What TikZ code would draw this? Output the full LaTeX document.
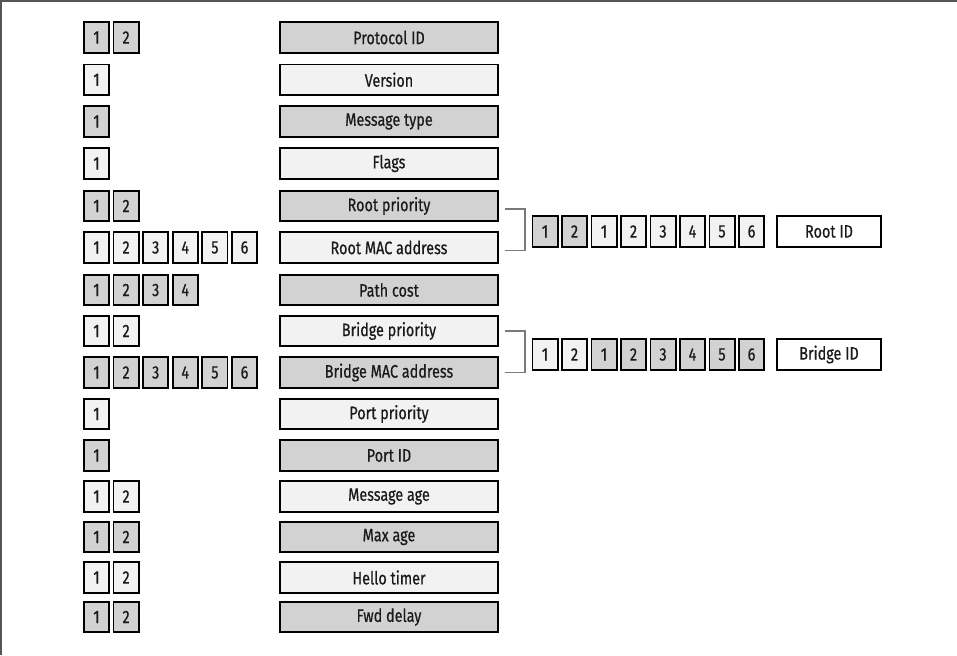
\documentclass[tikz,border=0pt]{standalone}
\usepackage{fontspec}
\setmainfont[FakeStretch=0.8,FakeBold=0.6]{Fira Sans}
\definecolor{gfill}{HTML}{D2D2D2}
\definecolor{lfill}{HTML}{F2F2F2}
\definecolor{txt}{HTML}{1A1A1A}
\definecolor{brk}{HTML}{7A7A7A}
\definecolor{framec}{HTML}{555555}
\tikzset{
  boxbase/.style={draw=black, line width=1.8pt, inner sep=0pt, text=txt,
    font=\fontsize{18}{20}\selectfont, minimum height=30.5pt},
  field/.style={boxbase, minimum width=218pt},
  byte/.style={boxbase, minimum width=25.2pt},
  idbox/.style={boxbase, minimum width=104pt, fill=white},
  gray/.style={fill=gfill},
  light/.style={fill=lfill},
  bracket/.style={draw=brk, line width=1.3pt},
}
\begin{document}
\begin{tikzpicture}[x=1pt,y=-1pt]
\useasboundingbox (0,0) rectangle (957,655);
\draw[framec, line width=1.6pt] (1,655) -- (1,1) -- (957,1);
\foreach \i/\y/\n/\c/\t in {
  1/37.5/2/gray/Protocol ID,
  2/79.8/1/light/Version,
  3/121.5/1/gray/Message type,
  4/163.5/1/light/Flags,
  5/206/2/gray/Root priority,
  6/247.5/6/light/Root MAC address,
  7/290/4/gray/Path cost,
  8/331/2/light/Bridge priority,
  9/372.5/6/gray/Bridge MAC address,
  10/414/1/light/Port priority,
  11/455.5/1/gray/Port ID,
  12/496.5/2/light/Message age,
  13/537/2/gray/Max age,
  14/577.5/2/light/Hello timer,
  15/617/2/gray/Fwd delay}{
  \node[field,\c] (f\i) at (389,\y) {\t};
  \foreach \k in {1,...,\n}{
    \node[byte,\c] (b\i-\k) at ({96.5+(\k-1)*29.6},\y) {\k};
  }
}
% Root ID group
\foreach \k/\l/\c in {1/1/gray,2/2/gray,3/1/light,4/2/light,5/3/light,6/4/light,7/5/light,8/6/light}{
  \node[byte,\c] (r\k) at ({545+(\k-1)*29.5},231.5) {\l};
}
\node[idbox] (rid) at (829,231.5) {Root ID};
% Bridge ID group
\foreach \k/\l/\c in {1/1/light,2/2/light,3/1/gray,4/2/gray,5/3/gray,6/4/gray,7/5/gray,8/6/gray}{
  \node[byte,\c] (g\k) at ({545+(\k-1)*29.5},354.5) {\l};
}
\node[idbox] (bid) at (829,354.5) {Bridge ID};
% brackets
\draw[bracket] ([xshift=6pt,yshift=-3pt]f5.east) -- ++(20,0) |- ([xshift=6pt,yshift=-3pt]f6.east);
\draw[bracket] ([xshift=6pt]f8.east) -- ++(20,0) |- ([xshift=6pt]f9.east);
\end{tikzpicture}
\end{document}
